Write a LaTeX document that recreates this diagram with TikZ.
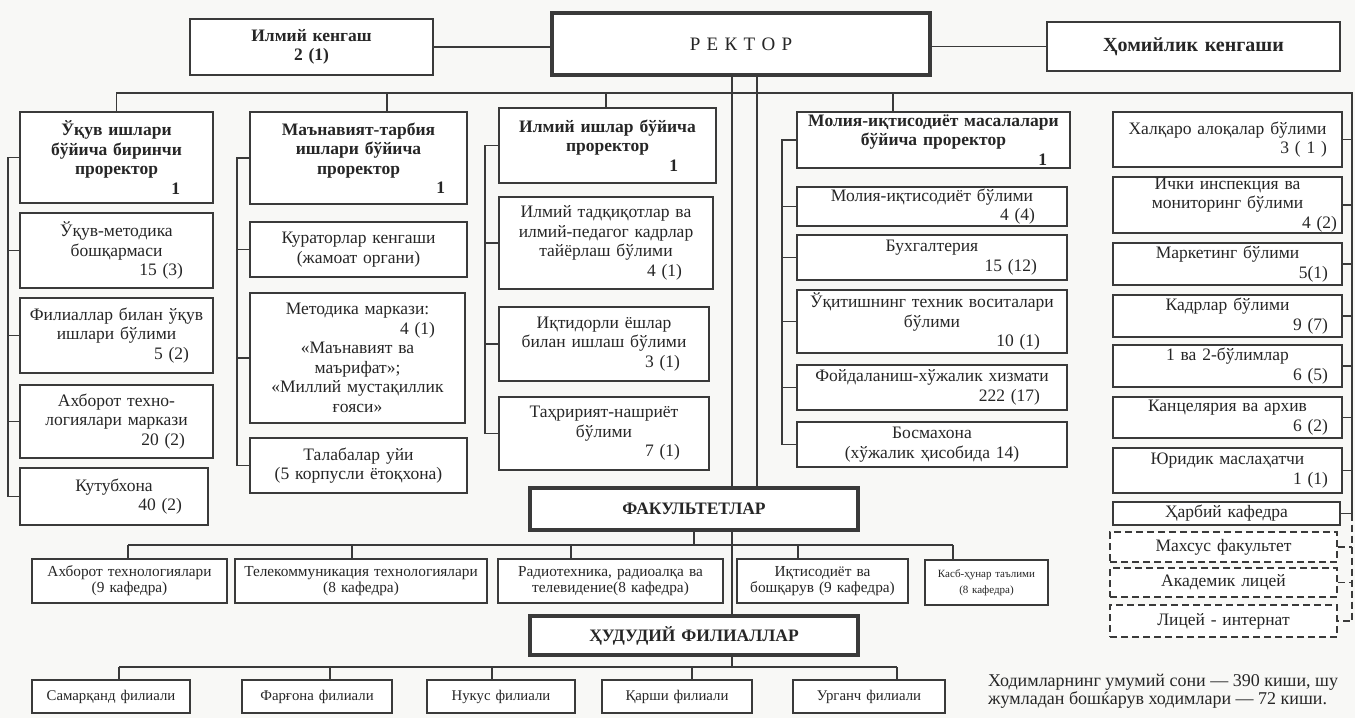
\documentclass[tikz,border=0pt]{standalone}
\usepackage{fontspec}
\setmainfont{Liberation Serif}
\definecolor{linec}{HTML}{3A3A3A}
\definecolor{inkc}{HTML}{262626}
\definecolor{paper}{HTML}{F8F8F6}
\newcommand{\cnt}[2][20pt]{\\\leavevmode\hbox to\hsize{\hfill#2\hspace*{#1}}}
\tikzset{
  box/.style={draw=linec, line width=1.3pt, fill=white, text=inkc, inner xsep=0pt, inner ysep=1pt,
    align=center, font=\fontsize{17.5}{19.5}\selectfont},
  head/.style={box, font=\fontsize{17.5}{19.5}\selectfont\bfseries},
  big/.style={box, line width=3.5pt, font=\fontsize{17.5}{20}\selectfont\bfseries},
  small/.style={box, font=\fontsize{15.3}{16}\selectfont},
  branch/.style={box, font=\fontsize{14.8}{16}\selectfont},
  dbox/.style={box, line width=1.6pt, dash pattern=on 7pt off 4pt},
  wh/.style 2 args={text width=#1pt, minimum height=#2pt},
  link/.style={draw=linec, line width=1.3pt}
}
\begin{document}
\begin{tikzpicture}[x=1pt,y=-1pt]
  \fill[paper] (0,0) rectangle (1355,718);
  \useasboundingbox (0,0) rectangle (1355,718);

  \node[head, wh={243}{56}] (kengash) at (311.5,47) {Илмий кенгаш\\2 (1)};
  \node[big, wh={378}{62}, font=\fontsize{19}{24}\selectfont] (rektor) at (741,44) {Р Е К Т О Р};
  \node[head, wh={293}{49}, font=\fontsize{20}{22}\selectfont\bfseries] (homiy) at (1193.5,46.5) {Ҳомийлик кенгаши};

  \node[head, wh={193}{91}] (uq1) at (116.5,157.5) {Ўқув ишлари\\бўйича биринчи\\проректор\cnt[33pt]{1}};
  \node[box, wh={193}{75}] (uq2) at (116.5,250.5) {Ўқув-методика\\бошқармаси\cnt[30pt]{15 (3)}};
  \node[box, wh={193}{75}] (uq3) at (116.5,335.5) {Филиаллар билан ўқув\\ишлари бўлими\cnt[24pt]{5 (2)}};
  \node[box, wh={193}{73}] (uq4) at (116.5,421.5) {Ахборот техно-\\логиялари маркази\cnt[28pt]{20 (2)}};
  \node[box, wh={188}{57}] (uq5) at (114,496.5) {Кутубхона\cnt[26pt]{40 (2)}};

  \node[head, wh={217}{92}] (mt1) at (358.5,158) {Маънавият-тарбия\\ишлари бўйича\\проректор\cnt[22pt]{1}};
  \node[box, wh={217}{55}] (mt2) at (358.5,249.5) {Кураторлар кенгаши\\(жамоат органи)};
  \node[box, wh={215}{130}] (mt3) at (357.5,358) {Методика маркази:\cnt[30pt]{4 (1)}\\«Маънавият ва\\маърифат»;\\«Миллий мустақиллик\\ғояси»};
  \node[box, wh={217}{55}] (mt4) at (358.5,465.5) {Талабалар уйи\\(5 корпусли ётоқхона)};

  \node[head, wh={217}{75}] (il1) at (607.5,145.5) {Илмий ишлар бўйича\\проректор\cnt[38pt]{1}};
  \node[box, wh={214}{92}] (il2) at (606,243) {Илмий тадқиқотлар ва\\илмий-педагог кадрлар\\тайёрлаш бўлими\cnt[31pt]{4 (1)}};
  \node[box, wh={210}{74}] (il3) at (604,344) {Иқтидорли ёшлар\\билан ишлаш бўлими\cnt[29pt]{3 (1)}};
  \node[box, wh={210}{73}] (il4) at (604,433.5) {Таҳририят-нашриёт\\бўлими\cnt[29pt]{7 (1)}};

  \node[head, wh={273}{56}] (mo1) at (933.5,140) {Молия-иқтисодиёт масалалари\\бўйича проректор\cnt[23pt]{1}};
  \node[box, wh={270}{39}] (mo2) at (932,206.5) {Молия-иқтисодиёт бўлими\cnt[32pt]{4 (4)}};
  \node[box, wh={270}{45}] (mo3) at (932,257.5) {Бухгалтерия\cnt[30pt]{15 (12)}};
  \node[box, wh={270}{63}] (mo4) at (932,321.5) {Ўқитишнинг техник воситалари\\бўлими\cnt[27pt]{10 (1)}};
  \node[box, wh={270}{45}] (mo5) at (932,387.5) {Фойдаланиш-хўжалик хизмати\cnt[27pt]{222 (17)}};
  \node[box, wh={270}{45}] (mo6) at (932,444.5) {Босмахона\\(хўжалик ҳисобида 14)};

  \node[box, wh={229}{55}] (r1) at (1227.5,139.5) {Халқаро алоқалар бўлими\cnt[15pt]{3 ( 1 )}};
  \node[box, wh={229}{56}] (r2) at (1227.5,205) {Ички инспекция ва\\мониторинг бўлими\cnt[5pt]{4 (2)}};
  \node[box, wh={229}{42}] (r3) at (1227.5,264) {Маркетинг бўлими\cnt[14pt]{5(1)}};
  \node[box, wh={229}{42}] (r4) at (1227.5,316) {Кадрлар бўлими\cnt[14pt]{9 (7)}};
  \node[box, wh={229}{42}] (r5) at (1227.5,366) {1 ва 2-бўлимлар\cnt[14pt]{6 (5)}};
  \node[box, wh={229}{41}] (r6) at (1227.5,417.5) {Канцелярия ва архив\cnt[14pt]{6 (2)}};
  \node[box, wh={229}{45}] (r7) at (1227.5,470.5) {Юридик маслаҳатчи\cnt[14pt]{1 (1)}};
  \node[box, wh={227}{23}] (r8) at (1226.5,513.5) {Ҳарбий кафедра};
  \node[dbox, wh={227}{30}] (r9) at (1223.5,547) {Махсус факультет};
  \node[dbox, wh={227}{29}] (r10) at (1223.5,582.5) {Академик лицей};
  \node[dbox, wh={227}{32}] (r11) at (1223.5,621) {Лицей - интернат};

  \node[big, wh={328}{42}] (fak) at (694,509) {ФАКУЛЬТЕТЛАР};
  \node[small, wh={195}{44}] (f1) at (129.5,581) {Ахборот технологиялари\\(9 кафедра)};
  \node[small, wh={252}{44}] (f2) at (361,581) {Телекоммуникация технологиялари\\(8 кафедра)};
  \node[small, wh={225}{44}] (f3) at (610.5,581) {Радиотехника, радиоалқа ва\\телевидение(8 кафедра)};
  \node[small, wh={171}{44}] (f4) at (822.5,581) {Иқтисодиёт ва\\бошқарув (9 кафедра)};
  \node[small, wh={123}{45}, font=\fontsize{11}{15.5}\selectfont] (f5) at (986.5,582.5) {Касб-ҳунар таълими\\(8 кафедра)};

  \node[big, wh={328}{39}] (hud) at (694,635.5) {ҲУДУДИЙ ФИЛИАЛЛАР};
  \node[branch, wh={158}{33}] (b1) at (111,696.5) {Самарқанд филиали};
  \node[branch, wh={150}{33}] (b2) at (317,696.5) {Фарғона филиали};
  \node[branch, wh={148}{33}] (b3) at (501,696.5) {Нукус филиали};
  \node[branch, wh={150}{33}] (b4) at (677,696.5) {Қарши филиали};
  \node[branch, wh={152}{33}] (b5) at (869,696.5) {Урганч филиали};

  \node[anchor=west, align=left, text=inkc, inner sep=0pt, font=\fontsize{18}{18}\selectfont] (note) at (988,691)
    {Ходимларнинг умумий сони — 390 киши, шу\\жумладан бошќарув ходимлари — 72 киши.};

  \coordinate (busR) at (1352,93);
  \coordinate (d2) at (387,93);
  \coordinate (d3) at (606,93);
  \coordinate (d4) at (893,93);
  \coordinate (s1) at (8,0);
  \coordinate (s2) at (237,0);
  \coordinate (s3) at (485,0);
  \coordinate (s4) at (782,0);
  \coordinate (v) at ([xshift=-9pt]rektor.south);
  \coordinate (w) at ([xshift=16pt]rektor.south);

  \draw[link] (kengash.east) -- (kengash.east -| rektor.west);
  \draw[link] (homiy.west -| rektor.east) -- (homiy.west);
  \draw[link] (uq1.north) |- (busR) |- (r8.east);
  \draw[link, dash pattern=on 7pt off 4pt] (busR |- r8.east) |- (r11.east);
  \foreach \n in {1,...,7}
    \draw[link] (r\n.east) -- (r\n.east -| busR);
  \foreach \n in {9,10}
    \draw[link, dash pattern=on 7pt off 4pt] (r\n.east) -- (r\n.east -| busR);
  \foreach \c/\n in {d2/mt1, d3/il1, d4/mo1}
    \draw[link] (\c) -- (\c |- \n.north);
  \foreach \c/\p/\k in {s1/uq/5, s2/mt/4, s3/il/4, s4/mo/6} {
    \draw[link] (\p1.west) -- (\p1.west -| \c) -- (\p\k.west -| \c) -- (\p\k.west);
    \foreach \i in {2,...,\k}
      \draw[link] (\p\i.west) -- (\p\i.west -| \c);
  }

  \draw[link] (v) -- (v |- fak.north);
  \draw[link] (w) -- (w |- fak.north);
  \draw[link] (v |- fak.south) -- (v |- hud.north);

  \coordinate (fb1) at (128,545);
  \coordinate (fb2) at (352,545);
  \coordinate (fb3) at (571,545);
  \coordinate (fb4) at (798,545);
  \coordinate (fb5) at (953,545);
  \draw[link] (fak.south) -- (fak.south |- fb1);
  \draw[link] (fb1) -- (fb5);
  \foreach \i in {1,...,5}
    \draw[link] (fb\i) -- (fb\i |- f\i.north);

  \coordinate (bb1) at (119,667);
  \coordinate (bb2) at (330,667);
  \coordinate (bb3) at (492,667);
  \coordinate (bb4) at (692,667);
  \coordinate (bb5) at (897,667);
  \draw[link] (v |- hud.south) -- (v |- bb1);
  \draw[link] (bb1) -- (bb5);
  \foreach \i in {1,...,5}
    \draw[link] (bb\i) -- (bb\i |- b\i.north);
\end{tikzpicture}
\end{document}
